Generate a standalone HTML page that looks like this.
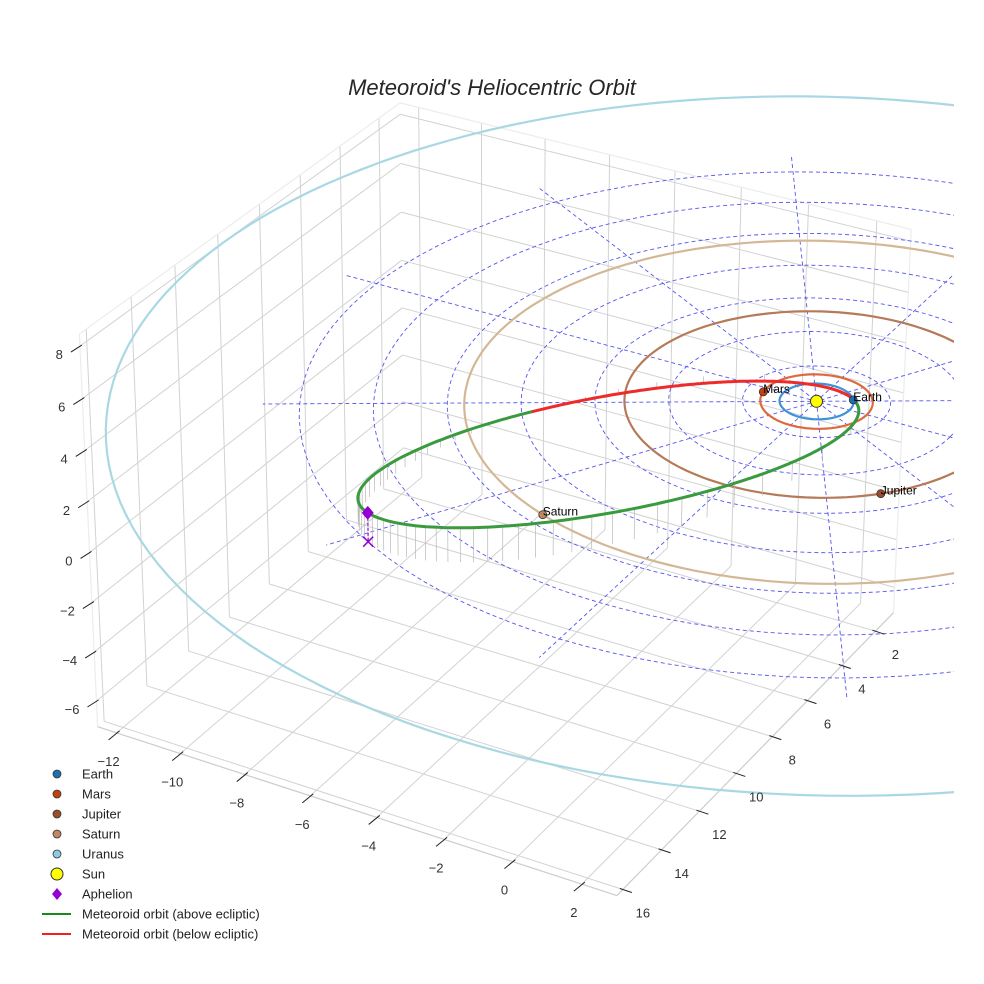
<!DOCTYPE html>
<html><head><meta charset="utf-8"><style>
html,body{margin:0;padding:0;background:#fff;}
svg{display:block;font-family:"Liberation Sans",sans-serif;}
</style></head><body>
<svg id="chart" width="984" height="984" viewBox="0 0 984 984">
<defs><clipPath id="clipR"><rect x="0" y="0" width="954" height="984"/></clipPath></defs>
<text x="492" y="95" text-anchor="middle" font-size="22" font-style="italic" fill="#262626">Meteoroid's Heliocentric Orbit</text>
<g id="panes"></g>
<g id="data" clip-path="url(#clipR)"></g>
<g id="axes"></g>
<g id="legend"></g>
</svg>
<script>
// ---- chart data ----
const planetNames = ['Earth','Mars','Jupiter','Saturn','Uranus'];
const planetRadii = [1.0, 1.52, 5.2, 9.54, 19.2];
const planetAngles = [-34, 171, 44, 111, null];
const orbitColors = ['#3d92d8','#dc6a3e','#b57a58','#d4b896','#a9d8e4'];
const markerColors = ['#1f6fb0','#c2420f','#9c4d2a','#c08862','#8ecbe0'];
const meteorQ = [0.96];
const meteorE = [0.872];
const meteorInc = [10];
const meteorNode = [-34];
const meteorArgPeri = [-28];
const gridRadii = [2,4,6,8,10,12,14];
const gridAngles = [0,30,60,90,120,150];
const gridRadialLen = [15];
const xTicks = [-12,-10,-8,-6,-4,-2,0,2];
const yTicks = [2,4,6,8,10,12,14,16];
const zTicks = [-6,-4,-2,0,2,4,6,8];
const legendLabels = ['Earth','Mars','Jupiter','Saturn','Uranus','Sun','Aphelion','Meteoroid orbit (above ecliptic)','Meteoroid orbit (below ecliptic)'];

// ---- axis box / camera calibration ----
const XMIN=-12.6, XMAX=3.0, YMIN=0.9, YMAX=16.3, ZMIN=-7.06, ZMAX=8.46;
const calW = [[XMIN,YMAX,ZMIN],[XMIN,YMAX,ZMAX],[XMAX,YMAX,ZMIN],[XMAX,YMIN,ZMIN],[XMIN,YMIN,ZMAX],[XMAX,YMIN,ZMAX],[0,0,0],[0,YMAX,ZMIN],[XMAX,8,ZMIN],[XMIN,YMAX,0],[0,YMIN,ZMAX],[XMIN,2,ZMAX]];
const calS = [[100,727],[81,333],[619,895],[895,612],[400,103],[912,230],[816,401],[511,862],[770,737],[86,553],[808,204],[379,118]];

function solve(A,b){const n=b.length;for(let i=0;i<n;i++){let m=i;for(let r=i+1;r<n;r++)if(Math.abs(A[r][i])>Math.abs(A[m][i]))m=r;[A[i],A[m]]=[A[m],A[i]];[b[i],b[m]]=[b[m],b[i]];for(let r=i+1;r<n;r++){const f=A[r][i]/A[i][i];for(let c=i;c<n;c++)A[r][c]-=f*A[i][c];b[r]-=f*b[i];}}const x=new Array(n).fill(0);for(let i=n-1;i>=0;i--){let s=b[i];for(let c=i+1;c<n;c++)s-=A[i][c]*x[c];x[i]=s/A[i][i];}return x;}
const rows=[],rhs=[];
calW.forEach((w,i)=>{const [X,Y,Z]=w,[u,v]=calS[i];rows.push([X,Y,Z,1,0,0,0,0,-u*X,-u*Y,-u*Z]);rhs.push(u);rows.push([0,0,0,0,X,Y,Z,1,-v*X,-v*Y,-v*Z]);rhs.push(v);});
const N=[],B=[];for(let i=0;i<11;i++){N.push(new Array(11).fill(0));B.push(0);}
rows.forEach((r,k)=>{for(let i=0;i<11;i++){B[i]+=r[i]*rhs[k];for(let j=0;j<11;j++)N[i][j]+=r[i]*r[j];}});
const P=solve(N,B);
function proj(x,y,z){const w=P[8]*x+P[9]*y+P[10]*z+1;return [(P[0]*x+P[1]*y+P[2]*z+P[3])/w,(P[4]*x+P[5]*y+P[6]*z+P[7])/w];}

const NS='http://www.w3.org/2000/svg';
function mk(tag,attrs,parent){const e=document.createElementNS(NS,tag);for(const k in attrs)e.setAttribute(k,attrs[k]);parent.appendChild(e);return e;}
function pathOf(pts){return pts.map((p,i)=>(i?'L':'M')+p[0].toFixed(1)+' '+p[1].toFixed(1)).join(' ');}
const panes=document.getElementById('panes'),data=document.getElementById('data'),axes=document.getElementById('axes'),legend=document.getElementById('legend');

function seg(a,b,parent,stroke,w,name){const p1=proj(...a),p2=proj(...b);const l=mk('line',{x1:p1[0],y1:p1[1],x2:p2[0],y2:p2[1],stroke:stroke,'stroke-width':w},parent);


return l;}
const GC='#d2d2d2';
xTicks.forEach(x=>{seg([x,YMIN,ZMIN],[x,YMAX,ZMIN],panes,GC,1,'floor-grid-x');seg([x,YMIN,ZMIN],[x,YMIN,ZMAX],panes,GC,1,'back-grid-x');});
yTicks.forEach(y=>{seg([XMIN,y,ZMIN],[XMAX,y,ZMIN],panes,GC,1,'floor-grid-y');seg([XMIN,y,ZMIN],[XMIN,y,ZMAX],panes,GC,1,'left-grid-y');});
zTicks.forEach(z=>{seg([XMIN,YMIN,z],[XMIN,YMAX,z],panes,GC,1,'left-grid-z');seg([XMIN,YMIN,z],[XMAX,YMIN,z],panes,GC,1,'back-grid-z');});
const EC='#ececec';
[[[XMIN,YMAX,ZMAX],[XMIN,YMIN,ZMAX]],[[XMIN,YMIN,ZMAX],[XMAX,YMIN,ZMAX]],[[XMAX,YMIN,ZMAX],[XMAX,YMIN,ZMIN]],[[XMIN,YMAX,ZMAX],[XMIN,YMAX,ZMIN]]].forEach(e=>seg(e[0],e[1],panes,EC,1.2,'pane-edge'));
seg([XMIN,YMAX,ZMIN],[XMAX,YMAX,ZMIN],panes,'#cccccc',1.2,'x-axis-line');
seg([XMAX,YMIN,ZMIN],[XMAX,YMAX,ZMIN],panes,'#cccccc',1.2,'y-axis-line');

xTicks.forEach(x=>{const p=proj(x,YMAX,ZMIN);const t=mk('line',{x1:p[0]+3,y1:p[1]-2,x2:p[0]-8,y2:p[1]+7,stroke:'#222','stroke-width':1},axes);


const s=mk('text',{x:p[0]-8,y:p[1]+33,'text-anchor':'middle','font-size':13,fill:'#333'},axes);s.textContent=(x<0?'\u2212'+(-x):x);

});
yTicks.forEach(y=>{const p=proj(XMAX,y,ZMIN);const t=mk('line',{x1:p[0]-3,y1:p[1]-1,x2:p[0]+9,y2:p[1]+3,stroke:'#222','stroke-width':1},axes);


const s=mk('text',{x:p[0]+20,y:p[1]+28,'text-anchor':'middle','font-size':13,fill:'#333'},axes);s.textContent=y;

});
zTicks.forEach(z=>{const p=proj(XMIN,YMAX,z);const t=mk('line',{x1:p[0]+2,y1:p[1]-1,x2:p[0]-9,y2:p[1]+6,stroke:'#222','stroke-width':1},axes);


const s=mk('text',{x:p[0]-17,y:p[1]+13,'text-anchor':'end','font-size':13,fill:'#333'},axes);s.textContent=(z<0?'\u2212'+(-z):z);

});

gridRadii.forEach(r=>{const pts=[];for(let a=0;a<=360;a+=3){const t=a*Math.PI/180;pts.push(proj(r*Math.cos(t),r*Math.sin(t),0));}
const e=mk('path',{d:pathOf(pts),fill:'none',stroke:'#5555ee','stroke-width':0.9,'stroke-dasharray':'4 3'},data);

});
const RL=gridRadialLen[0];
gridAngles.forEach(a=>{const t=a*Math.PI/180;const pts=[];for(let s=-RL;s<=RL;s+=1)pts.push(proj(s*Math.cos(t),s*Math.sin(t),0));
const e=mk('path',{d:pathOf(pts),fill:'none',stroke:'#5555ee','stroke-width':0.9,'stroke-dasharray':'4 3'},data);

});

planetNames.forEach((n,i)=>{const r=planetRadii[i];const pts=[];for(let a=0;a<=360;a+=2){const t=a*Math.PI/180;pts.push(proj(r*Math.cos(t),r*Math.sin(t),0));}
const e=mk('path',{d:pathOf(pts),fill:'none',stroke:orbitColors[i],'stroke-width':2.2},data);

});

const q=meteorQ[0],ecc=meteorE[0],pl=q*(1+ecc),inc=meteorInc[0]*Math.PI/180,Om=meteorNode[0]*Math.PI/180,w=meteorArgPeri[0]*Math.PI/180;
function mposNu(nu){const r=pl/(1+ecc*Math.cos(nu));const u=w+nu;
return [r*(Math.cos(Om)*Math.cos(u)-Math.sin(Om)*Math.sin(u)*Math.cos(inc)),r*(Math.sin(Om)*Math.cos(u)+Math.cos(Om)*Math.sin(u)*Math.cos(inc)),r*Math.sin(u)*Math.sin(inc)];}
function mpos(nuDeg){return mposNu(nuDeg*Math.PI/180);}
for(let k=0;k<60;k++){const M=k/60*2*Math.PI;let E=M;for(let it=0;it<50;it++)E=M+ecc*Math.sin(E);
const nu=2*Math.atan2(Math.sqrt(1+ecc)*Math.sin(E/2),Math.sqrt(1-ecc)*Math.cos(E/2));
const p=mposNu(nu);if(Math.abs(p[2])<0.05)continue;const a=proj(...p),b=proj(p[0],p[1],0);
const l=mk('line',{x1:a[0],y1:a[1],x2:b[0],y2:b[1],stroke:'#b8b8b8','stroke-width':0.7},data);

}
let segs=[],cur=null,curSign=null;
for(let k=0;k<=720;k++){const nu=k*0.5;const p=mpos(nu);const sgn=p[2]>=0;if(sgn!==curSign){if(cur)cur.pts.push(proj(...p));cur={above:sgn,pts:[]};segs.push(cur);curSign=sgn;}cur.pts.push(proj(...p));}
segs.forEach(s=>{const e=mk('path',{d:pathOf(s.pts),fill:'none',stroke:s.above?'#3a9a3e':'#ee2a2a','stroke-width':3,'stroke-linecap':'round'},data);

});
const ap=mpos(180),apS=proj(...ap),apG=proj(ap[0],ap[1],0);
const al=mk('line',{x1:apS[0],y1:apS[1],x2:apG[0],y2:apG[1],stroke:'#9400d3','stroke-width':1.2,'stroke-dasharray':'3 2'},data);


const ax=mk('path',{d:`M${apG[0]-5} ${apG[1]-5}L${apG[0]+5} ${apG[1]+5}M${apG[0]-5} ${apG[1]+5}L${apG[0]+5} ${apG[1]-5}`,stroke:'#9400d3','stroke-width':1.5,fill:'none'},data);


const ad=mk('path',{d:`M${apS[0]} ${apS[1]-7}L${apS[0]+6} ${apS[1]}L${apS[0]} ${apS[1]+7}L${apS[0]-6} ${apS[1]}Z`,fill:'#9400d3'},data);



const sp=proj(0,0,0);
const sun=mk('circle',{cx:sp[0],cy:sp[1],r:6,fill:'#ffff00',stroke:'#333','stroke-width':1},data);


planetNames.forEach((n,i)=>{if(planetAngles[i]===null)return;const t=planetAngles[i]*Math.PI/180,r=planetRadii[i];const p=proj(r*Math.cos(t),r*Math.sin(t),0);
const c=mk('circle',{cx:p[0],cy:p[1],r:4,fill:markerColors[i],stroke:'#333','stroke-width':0.8},data);


const s=mk('text',{x:p[0],y:p[1]+1,'font-size':12,fill:'#000'},data);s.textContent=n;

});

legendLabels.forEach((lab,i)=>{const y=774+i*20;let m;
if(i<5){m=mk('circle',{cx:57,cy:y,r:4,fill:markerColors[i],stroke:'#333','stroke-width':0.8},legend);}
else if(i===5){m=mk('circle',{cx:57,cy:y,r:6,fill:'#ffff00',stroke:'#333','stroke-width':1},legend);}
else if(i===6){m=mk('path',{d:`M57 ${y-6}L62 ${y}L57 ${y+6}L52 ${y}Z`,fill:'#9400d3'},legend);}
else {m=mk('line',{x1:42,y1:y,x2:71,y2:y,stroke:i===7?'#1a8a1a':'#ee2020','stroke-width':2},legend);}


const s=mk('text',{x:82,y:y+4.5,'font-size':13,fill:'#222'},legend);s.textContent=lab;

});
</script>
</body></html>
